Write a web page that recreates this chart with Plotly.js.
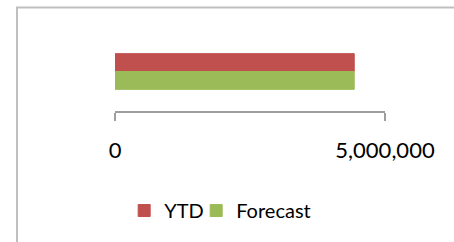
<!DOCTYPE html>
<html>
<head>
<meta charset="utf-8">
<script src="https://cdn.plot.ly/plotly-3.0.1.min.js"></script>
<style>html,body{margin:0;padding:0;background:#fff;}#chart{width:454px;height:242px;}</style>
</head>
<body>
<div id="chart"></div>
<script>
const categories = ["Total"];
const seriesNames = ["YTD", "Forecast"];
const ytdValues = [4430000];
const forecastValues = [4430000];
const tickValues = [0, 5000000];
const tickLabels = ["0", "5,000,000"];

const traces = [
  {type: "bar", orientation: "h", name: seriesNames[0], y: categories, x: ytdValues,
   marker: {color: "#c0504d", line: {color: "#c0504d", width: 1}}, legendwidth: 27, hoverinfo: "x+name"},
  {type: "bar", orientation: "h", name: seriesNames[1], y: categories, x: forecastValues,
   marker: {color: "#9bbb59", line: {color: "#9bbb59", width: 1}}, hoverinfo: "x+name"}
];

const layout = {
  width: 454, height: 242,
  margin: {l: 115, r: 69, t: 32, b: 126, pad: 0},
  paper_bgcolor: "#fff", plot_bgcolor: "#fff",
  barmode: "group", bargap: 0.548, bargroupgap: 0,
  font: {family: "Lato, 'Open Sans', sans-serif", color: "#000"},
  showlegend: true,
  legend: {orientation: "h", x: 0.034, xanchor: "left", y: -1.26, yanchor: "middle",
           font: {size: 20, color: "#000"}, traceorder: "normal", itemwidth: 30},
  xaxis: {range: [0, 5000000], tickmode: "array", tickvals: tickValues, ticktext: tickLabels,
          showgrid: false, zeroline: false, showline: true, linecolor: "#9e9e9e", linewidth: 2,
          ticks: "outside", ticklen: 8, tickwidth: 2, tickcolor: "#9e9e9e", ticklabelstandoff: 11,
          tickfont: {size: 22, color: "#000"}, fixedrange: true},
  yaxis: {autorange: "reversed", showticklabels: false, showgrid: false, zeroline: false,
          showline: false, ticks: "", fixedrange: true},
  shapes: [{type: "rect", xref: "paper", yref: "paper",
            x0: -0.363, x1: 1.3, y0: -1.7, y1: 1.3095,
            line: {color: "#bfbfbf", width: 2}, fillcolor: "rgba(0,0,0,0)", layer: "below"}]
};

Plotly.newPlot("chart", traces, layout, {displayModeBar: false, staticPlot: true});
</script>
</body>
</html>
